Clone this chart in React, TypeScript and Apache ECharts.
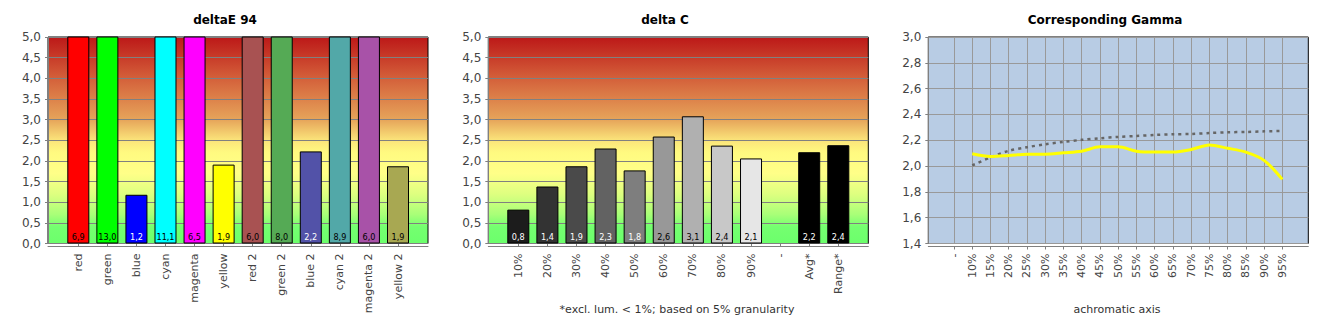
import React, { useEffect, useRef } from "react";
import * as echarts from "echarts";

const deltaECategories = ["red", "green", "blue", "cyan", "magenta", "yellow", "red 2", "green 2", "blue 2", "cyan 2", "magenta 2", "yellow 2"];
const deltaEValues = [6.9, 13.0, 1.18, 11.1, 6.5, 1.91, 6.0, 8.0, 2.23, 8.9, 6.0, 1.87];
const deltaEColors = ["#FF0000", "#00FF00", "#0000FF", "#00FFFF", "#FF00FF", "#FFFF00", "#A85252", "#55AA55", "#5252A8", "#52A8A8", "#A852A8", "#A8A852"];
const deltaELabelColors = ["#000", "#000", "#FFF", "#000", "#000", "#000", "#000", "#000", "#FFF", "#000", "#000", "#000"];

const deltaCCategories = ["10%", "20%", "30%", "40%", "50%", "60%", "70%", "80%", "90%", "-", "Avg*", "Range*"];
const deltaCValues = [0.82, 1.38, 1.87, 2.3, 1.77, 2.59, 3.08, 2.37, 2.06, null, 2.21, 2.38];
const deltaCColors = ["#1C1C1C", "#333333", "#4A4A4A", "#626262", "#7E7E7E", "#989898", "#B0B0B0", "#C8C8C8", "#E6E6E6", "#000000", "#000000", "#000000"];
const deltaCLabelColors = ["#FFF", "#FFF", "#FFF", "#FFF", "#FFF", "#000", "#000", "#000", "#000", "#FFF", "#FFF", "#FFF"];

const gammaCategories = ["-", "10%", "15%", "20%", "25%", "30%", "35%", "40%", "45%", "50%", "55%", "60%", "65%", "70%", "75%", "80%", "85%", "90%", "95%"];
const gammaMeasured = [null, 2.095, 2.074, 2.082, 2.092, 2.092, 2.103, 2.115, 2.149, 2.149, 2.115, 2.108, 2.108, 2.128, 2.164, 2.138, 2.108, 2.044, 1.897];
const gammaTarget = [null, 2.005, 2.067, 2.118, 2.146, 2.169, 2.187, 2.203, 2.215, 2.226, 2.233, 2.241, 2.246, 2.249, 2.256, 2.262, 2.264, 2.269, 2.272];

const titles = ["deltaE 94", "delta C", "Corresponding Gamma"];
const deltaCNote = "*excl. lum. < 1%; based on 5% granularity";
const gammaAxisName = "achromatic axis";

const FONT = "DejaVu Sans";
const fmt = (v: number) => v.toFixed(1).replace(".", ",");

export default function App() {
  const ref = useRef<HTMLDivElement>(null);
  useEffect(() => {
    if (!ref.current) return;
    const chart = echarts.init(ref.current, null, { renderer: "svg" });

    const heatGrad = new echarts.graphic.LinearGradient(0, 0, 0, 1, [
      { offset: 0, color: "#BC1818" },
      { offset: 0.2, color: "#D4603A" },
      { offset: 0.4, color: "#E6A45A" },
      { offset: 0.5, color: "#FBE47A" },
      { offset: 0.56, color: "#FFFA80" },
      { offset: 0.66, color: "#FFFF88" },
      { offset: 0.76, color: "#DEFF80" },
      { offset: 0.86, color: "#A8FF78" },
      { offset: 0.92, color: "#74FF70" },
      { offset: 1, color: "#6CFF6C" },
    ]);

    const boxes = [
      { left: 48, innerLeft: 78.3, innerWidth: 319.7 },
      { left: 488.3, innerLeft: 518.3, innerWidth: 320 },
      { left: 928.3, innerLeft: 954, innerWidth: 328.3 },
    ];
    const cats = [deltaECategories, deltaCCategories, gammaCategories];
    const yRanges = [
      { min: 0, max: 5, interval: 0.5 },
      { min: 0, max: 5, interval: 0.5 },
      { min: 1.4, max: 3.0, interval: 0.2 },
    ];

    const grid: any[] = [];
    const xAxis: any[] = [];
    const yAxis: any[] = [];
    boxes.forEach((b, i) => {
      grid.push({
        left: b.left, top: 37, width: 380, height: 206.5, show: true,
        backgroundColor: i < 2 ? heatGrad : "#B8CCE4",
        borderColor: "#000", borderWidth: 1, outerBoundsMode: "none",
      });
      grid.push({ left: b.innerLeft, top: 37, width: b.innerWidth, height: 206.5, outerBoundsMode: "none" });
      xAxis.push({
        gridIndex: 2 * i, type: "value", min: 0, max: 1, offset: 3,
        axisLine: { show: true, onZero: false, lineStyle: { color: "#808080" } },
        axisTick: { show: false }, axisLabel: { show: false }, splitLine: { show: false },
      });
      xAxis.push({
        gridIndex: 2 * i + 1, type: "category", data: cats[i], boundaryGap: false, offset: 3,
        axisLine: { show: false },
        axisTick: { show: true, length: 3, lineStyle: { color: "#808080" } },
        axisLabel: { rotate: 90, interval: 0, margin: 7, fontSize: 11, fontFamily: FONT, color: "#444" },
        splitLine: { show: i === 2, lineStyle: { color: "#999999" } },
      });
      yAxis.push({
        gridIndex: 2 * i, type: "value", ...yRanges[i], offset: 4,
        axisLine: { show: true, lineStyle: { color: "#808080" } },
        axisTick: { show: true, length: 3, lineStyle: { color: "#808080" } },
        axisLabel: { formatter: fmt, margin: 3, fontSize: 12, fontFamily: FONT, color: "#444" },
        splitLine: { show: true, lineStyle: { color: i < 2 ? "#808080" : "#999999" } },
      });
      yAxis.push({ gridIndex: 2 * i + 1, type: "value", ...yRanges[i], show: false });
    });

    const barData = (vals: (number | null)[], colors: string[], lcolors: string[]) =>
      vals.map((v, k) =>
        v == null ? null : { value: v, itemStyle: { color: colors[k] }, label: { color: lcolors[k] } }
      );

    const barCommon = {
      type: "bar", barWidth: 22, clip: true,
      itemStyle: { borderColor: "#000", borderWidth: 1 },
      label: {
        show: true, position: "insideBottom", distance: 2,
        fontSize: 9, fontFamily: "DejaVu Sans Condensed",
        formatter: (p: any) => fmt(p.value),
      },
    };

    const option: any = {
      animation: false,
      backgroundColor: "#FFFFFF",
      grid, xAxis, yAxis,
      series: [
        { ...barCommon, xAxisIndex: 1, yAxisIndex: 1, data: barData(deltaEValues, deltaEColors, deltaELabelColors) },
        { ...barCommon, xAxisIndex: 3, yAxisIndex: 3, data: barData(deltaCValues, deltaCColors, deltaCLabelColors) },
        {
          type: "line", xAxisIndex: 5, yAxisIndex: 5, data: gammaTarget, smooth: 0.3, symbol: "none",
          lineStyle: { color: "#666666", width: 2.5, type: [3, 4] },
        },
        {
          type: "line", xAxisIndex: 5, yAxisIndex: 5, data: gammaMeasured, smooth: 0.3, symbol: "none",
          lineStyle: { color: "#FFFF00", width: 3 },
        },
      ],
      graphic: [
        ...titles.map((t, i) => ({
          type: "text", x: [225, 665, 1105][i], y: 20,
          style: { text: t, textAlign: "center", textVerticalAlign: "middle", font: `bold 12px ${FONT}`, fill: "#000" },
        })),
        {
          type: "text", x: 677, y: 309,
          style: { text: deltaCNote, textAlign: "center", textVerticalAlign: "middle", font: `11px ${FONT}`, fill: "#333" },
        },
        {
          type: "text", x: 1117, y: 309,
          style: { text: gammaAxisName, textAlign: "center", textVerticalAlign: "middle", font: `11px ${FONT}`, fill: "#333" },
        },
      ],
    };
    chart.setOption(option);
    return () => chart.dispose();
  }, []);
  return <div ref={ref} style={{ position: "absolute", left: 0, top: 0, width: 1330, height: 330 }} />;
}
